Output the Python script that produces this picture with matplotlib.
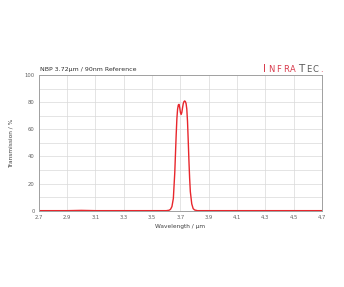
import matplotlib.pyplot as plt

# Transmission curve of the narrow band pass filter
wavelength = [2.70, 2.90, 3.00, 3.10, 3.30, 3.50, 3.60, 3.62, 3.63, 3.64, 3.65,
              3.66, 3.665, 3.67, 3.675, 3.68, 3.685, 3.69, 3.695, 3.70, 3.705,
              3.71, 3.715, 3.72, 3.725, 3.73, 3.735, 3.74, 3.745, 3.75, 3.755,
              3.76, 3.765, 3.77, 3.78, 3.79, 3.80, 3.82, 3.90, 4.10, 4.30,
              4.50, 4.70]
transmission = [0.0, 0.0, 0.2, 0.0, 0.0, 0.0, 0.0, 0.3, 1.0, 3.0, 9.0,
                28.0, 42.0, 56.0, 68.0, 75.0, 78.0, 78.5, 76.0, 72.5, 71.0,
                72.5, 76.0, 79.0, 80.5, 81.0, 80.5, 79.0, 75.0, 66.0, 52.0,
                37.0, 24.0, 14.0, 5.0, 1.5, 0.5, 0.0, 0.0, 0.0, 0.0,
                0.0, 0.0]

x_ticks = [2.7, 2.9, 3.1, 3.3, 3.5, 3.7, 3.9, 4.1, 4.3, 4.5, 4.7]
y_ticks = [0, 20, 40, 60, 80, 100]

fig = plt.figure(figsize=(3.44, 2.87), dpi=100)
ax = fig.add_axes([0.113, 0.266, 0.823, 0.472])

ax.plot(wavelength, transmission, color='#e8262c', linewidth=1.0)

ax.set_xlim(2.7, 4.7)
ax.set_ylim(0, 100)
ax.set_xticks(x_ticks)
ax.set_yticks(y_ticks)
ax.set_yticks(range(10, 100, 20), minor=True)
ax.grid(True, which='both', color='#d9d9d9', linewidth=0.5)
ax.set_axisbelow(True)
ax.tick_params(which='both', length=0, labelsize=3.8, labelcolor='#606060', pad=3)

for side in ['top', 'right', 'left', 'bottom']:
    ax.spines[side].set_color('#a0a0a0')
    ax.spines[side].set_linewidth(0.7)

ax.set_xlabel('Wavelength / µm', fontsize=4.2, color='#404040', labelpad=3)
ax.set_ylabel('Transmission / %', fontsize=4.2, color='#404040', labelpad=8)

fig.text(0.116, 0.750, 'NBP 3.72µm / 90nm Reference', fontsize=4.5,
         color='#303030', ha='left', va='bottom')

# InfraTec logo-style text, one letter per slot
logo_red = '#d83a4c'
logo_grey = '#5a5a5a'
logo = [('I', 264, 7.5, logo_red), ('N', 271, 6.0, logo_red),
        ('F', 278.5, 6.0, logo_red), ('R', 286, 6.0, logo_red),
        ('A', 293, 6.0, logo_red), ('T', 301, 7.5, logo_grey),
        ('E', 308.5, 6.0, logo_grey), ('C', 315.5, 6.0, logo_grey),
        ('.', 321, 6.0, logo_red)]
for ch, px, size, col in logo:
    fig.text(px / 344, 1 - 72.5 / 287, ch, fontsize=size, color=col,
             ha='center', va='baseline', family='DejaVu Sans')

fig.savefig('out.png', dpi=100)
